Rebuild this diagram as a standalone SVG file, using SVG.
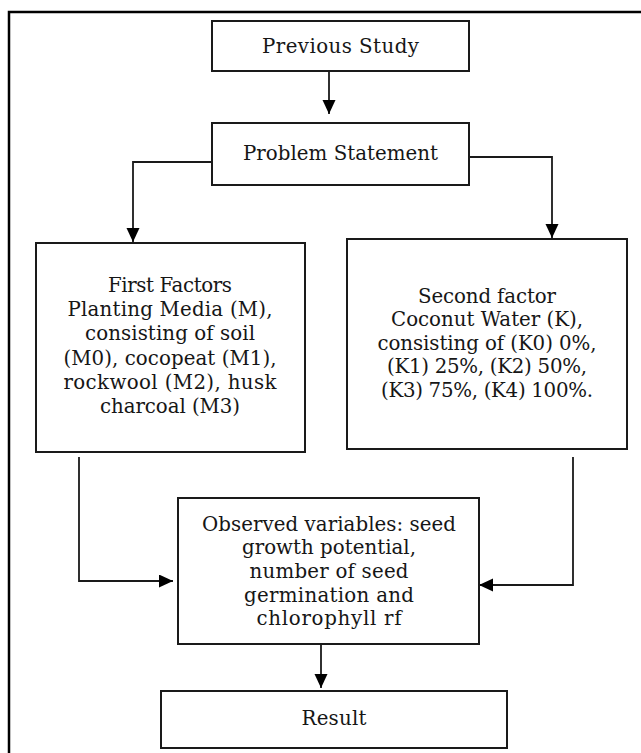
<svg xmlns="http://www.w3.org/2000/svg" width="641" height="753" viewBox="0 0 641 753">
  <style>
    .box { fill: #ffffff; stroke: #1a1a1a; stroke-width: 2; }
    .conn { fill: none; stroke: #1a1a1a; stroke-width: 1.8; }
    .frame { fill: none; stroke: #000000; stroke-width: 2.5; }
    text { font-family: "DejaVu Serif", "Liberation Serif", serif; font-size: 19.8px; fill: #161616; text-anchor: middle; }
  </style>
  <defs>
    <marker id="arrow" markerUnits="userSpaceOnUse" markerWidth="14" markerHeight="14" refX="14" refY="6.5" orient="auto">
      <path d="M0,0 L14,6.5 L0,13 z" fill="#000000"/>
    </marker>
  </defs>
  <rect width="641" height="753" fill="#ffffff"/>
  <path class="frame" d="M9,753 L9,12 L641,12"/>

  <g id="connectors">
    <line class="conn" x1="329" y1="71" x2="329" y2="114" marker-end="url(#arrow)"/>
    <polyline class="conn" points="212,162 133,162 133,242" marker-end="url(#arrow)"/>
    <polyline class="conn" points="469,157 552,157 552,238" marker-end="url(#arrow)"/>
    <polyline class="conn" points="79,457 79,581 173,581" marker-end="url(#arrow)"/>
    <polyline class="conn" points="573,457 573,585 479,585" marker-end="url(#arrow)"/>
    <line class="conn" x1="321" y1="644" x2="321" y2="688" marker-end="url(#arrow)"/>
  </g>

  <g id="previous-study">
    <rect class="box" x="212" y="21" width="257" height="50"/>
    <text x="340.5" y="52.5" textLength="157" lengthAdjust="spacing">Previous Study</text>
  </g>

  <g id="problem-statement">
    <rect class="box" x="212" y="123" width="257" height="62"/>
    <text x="340.5" y="159.5" textLength="195" lengthAdjust="spacing">Problem Statement</text>
  </g>

  <g id="first-factors">
    <rect class="box" x="36" y="243" width="269" height="209"/>
    <text x="170" y="292" textLength="124" lengthAdjust="spacing">First Factors</text>
    <text x="170" y="316.2" textLength="205" lengthAdjust="spacing">Planting Media (M),</text>
    <text x="170" y="340.4" textLength="170" lengthAdjust="spacing">consisting of soil</text>
    <text x="170" y="364.6" textLength="213" lengthAdjust="spacing">(M0), cocopeat (M1),</text>
    <text x="170" y="388.8" textLength="213" lengthAdjust="spacing">rockwool (M2), husk</text>
    <text x="170" y="413" textLength="140" lengthAdjust="spacing">charcoal (M3)</text>
  </g>

  <g id="second-factor">
    <rect class="box" x="347" y="239" width="280" height="210"/>
    <text x="487" y="302.5" textLength="138" lengthAdjust="spacing">Second factor</text>
    <text x="487" y="326" textLength="192" lengthAdjust="spacing">Coconut Water (K),</text>
    <text x="487" y="349.5" textLength="219" lengthAdjust="spacing">consisting of (K0) 0%,</text>
    <text x="487" y="373" textLength="200" lengthAdjust="spacing">(K1) 25%, (K2) 50%,</text>
    <text x="487" y="396.5" textLength="212" lengthAdjust="spacing">(K3) 75%, (K4) 100%.</text>
  </g>

  <g id="observed-variables">
    <rect class="box" x="178" y="498" width="301" height="146"/>
    <text x="329" y="530.7" textLength="254" lengthAdjust="spacing">Observed variables: seed</text>
    <text x="329" y="554.3" textLength="174" lengthAdjust="spacing">growth potential,</text>
    <text x="329" y="577.9" textLength="159" lengthAdjust="spacing">number of seed</text>
    <text x="329" y="601.5" textLength="170" lengthAdjust="spacing">germination and</text>
    <text x="329" y="625" textLength="145" lengthAdjust="spacing">chlorophyll rf</text>
  </g>

  <g id="result">
    <rect class="box" x="161" y="691" width="346" height="57"/>
    <text x="334" y="725" textLength="65" lengthAdjust="spacing">Result</text>
  </g>
</svg>
